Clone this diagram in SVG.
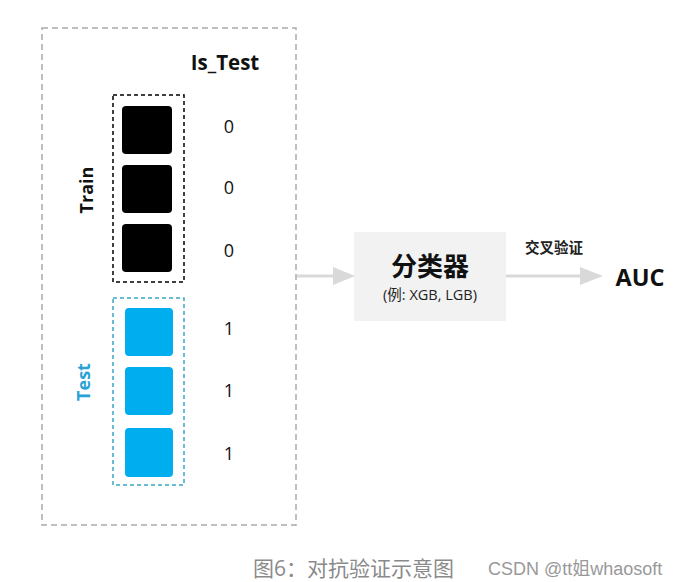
<svg xmlns="http://www.w3.org/2000/svg" width="680" height="582" viewBox="0 0 680 582">
<style>
text{font-family:"Open Sans","Noto Sans","Noto Sans CJK SC",sans-serif;}
.lbl{font-size:18px;fill:#111;text-anchor:middle;}
.bold{font-weight:bold;}
.blk{fill:#000;}
.blu{fill:#00aeef;}
.conn{stroke:#d9d9d9;stroke-width:3;fill:none;}
.head{fill:#d9d9d9;}
</style>
<rect width="680" height="582" fill="#fff"/>
<g id="container">
<rect x="42" y="28" width="254" height="497" fill="none" stroke="#aaa" stroke-width="1.5" stroke-dasharray="6,4"/>
<text x="225" y="70" class="lbl bold" style="font-size:20.5px">Is_Test</text>
</g>
<g id="train">
<rect x="113" y="95" width="71" height="187" fill="none" stroke="#000" stroke-width="1.5" stroke-dasharray="4,3"/>
<rect class="blk" x="122" y="106" width="50" height="48" rx="4"/>
<rect class="blk" x="122" y="165" width="50" height="48" rx="4"/>
<rect class="blk" x="122" y="224" width="50" height="48" rx="4"/>
<text class="lbl bold" transform="translate(93,190) rotate(-90)">Train</text>
<text class="lbl" x="229" y="133">0</text>
<text class="lbl" x="229" y="194">0</text>
<text class="lbl" x="229" y="257">0</text>
</g>
<g id="test">
<rect x="113" y="298" width="71" height="187" fill="none" stroke="#3aa6c9" stroke-width="1.5" stroke-dasharray="4,3"/>
<rect class="blu" x="125" y="308" width="48" height="48" rx="4"/>
<rect class="blu" x="125" y="367" width="48" height="48" rx="4"/>
<rect class="blu" x="125" y="428" width="48" height="49" rx="4"/>
<text class="lbl bold" style="fill:#29a3d5" transform="translate(90,382) rotate(-90)">Test</text>
<text class="lbl" x="229" y="335">1</text>
<text class="lbl" x="229" y="397">1</text>
<text class="lbl" x="229" y="460">1</text>
</g>
<g id="classifier">
<rect x="354" y="232" width="152" height="89" fill="#f2f2f2"/>
<text x="430" y="276" text-anchor="middle" font-size="26" font-weight="bold" fill="#111">分类器</text>
<text x="430" y="300" text-anchor="middle" font-size="14.5" fill="#222">(例: XGB, LGB)</text>
</g>
<g id="auc">
<text x="640" y="286" text-anchor="middle" font-size="23.5" font-weight="bold" fill="#111">AUC</text>
</g>
<g id="connectors">
<line class="conn" x1="297" y1="276" x2="336" y2="276"/>
<polygon class="head" points="333,267 355,276 333,285"/>
<line class="conn" x1="506" y1="276" x2="582" y2="276"/>
<polygon class="head" points="580,267 603,276 580,285"/>
<text x="554" y="253" text-anchor="middle" font-size="14.5" font-weight="bold" fill="#222">交叉验证</text>
</g>
<g id="caption">
<text x="253" y="576" font-size="21" fill="#8a8a8a">图6：对抗验证示意图</text>
<text x="488" y="575" font-size="18" fill="#999" style="font-family:'Liberation Sans','Noto Sans CJK SC',sans-serif">CSDN @tt姐whaosoft</text>
</g>
</svg>
